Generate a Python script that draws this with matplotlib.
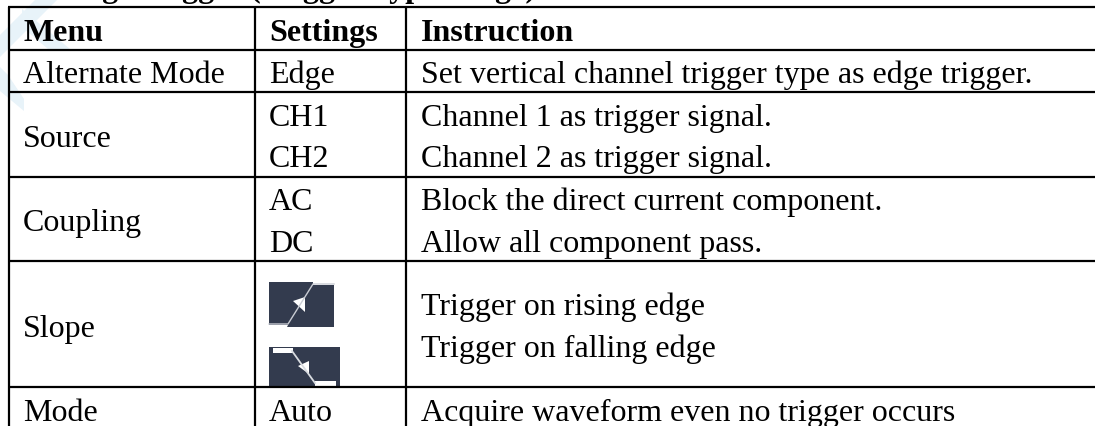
import matplotlib
matplotlib.use('Agg')
import matplotlib.pyplot as plt
from matplotlib.patches import Polygon, Rectangle

W, H = 1095, 427

title = 'Edge Trigger (Trigger Type: Edge)'
header = ['Menu', 'Settings', 'Instruction']
menu = ['Alternate Mode', 'Source', 'Coupling', 'Slope', 'Mode']
settings = ['Edge', 'CH1', 'CH2', 'AC', 'DC', 'Auto']
instructions = ['Set vertical channel trigger type as edge trigger.',
                'Channel 1 as trigger signal.',
                'Channel 2 as trigger signal.',
                'Block the direct current component.',
                'Allow all component pass.',
                'Trigger on rising edge',
                'Trigger on falling edge',
                'Acquire waveform even no trigger occurs']

# baselines, pixels from top
menu_y = [83, 147, 231, 337, 421]
settings_y = [83, 126, 167, 210, 252, 421]
instr_y = [83, 126, 167, 210, 252, 315, 357, 421]

h_lines = [8, 51, 93, 178, 262, 388]
v_lines = [9, 255, 406]
FS = 23
DARK = '#333b4e'

plt.rcParams['font.family'] = ['Liberation Serif', 'DejaVu Serif']

fig = plt.figure(figsize=(W / 100, H / 100), dpi=100)
ax = fig.add_axes([0, 0, 1, 1])
ax.set_xlim(0, W)
ax.set_ylim(H, 0)
ax.axis('off')

# watermark bands, top left
for pts in [[(0, 36), (36, 0), (58, 0), (0, 58)],
            [(0, 68), (8, 76), (24, 100), (24, 112), (0, 92)],
            [(22, 10), (70, 50), (48, 50), (22, 28)]]:
    ax.add_patch(Polygon(pts, fc='#e8f3f9', ec='none', zorder=0))

ax.text(63, -3.5, title, fontsize=FS, fontweight='bold', va='baseline')

for y in h_lines:
    ax.plot([v_lines[0] - 1, W], [y, y], color='black', lw=1.6, solid_capstyle='butt')
for x in v_lines:
    ax.plot([x, x], [h_lines[0], H], color='black', lw=1.6, solid_capstyle='butt')

for x, s in zip([23, 269, 421], header):
    ax.text(x, 41, s, fontsize=FS, fontweight='bold', va='baseline')
for y, s in zip(menu_y, menu):
    ax.text(23, y, s, fontsize=FS, va='baseline')
for y, s in zip(settings_y, settings):
    ax.text(269, y, s, fontsize=FS, va='baseline')
for y, s in zip(instr_y, instructions):
    ax.text(421, y, s, fontsize=FS, va='baseline')

# slope icons
ax.add_patch(Rectangle((269, 283), 65, 45, fc=DARK, ec='none'))
ax.add_patch(Rectangle((313, 283), 21, 3, fc='white', ec='none'))
ax.add_patch(Polygon([(269, 326), (288, 326), (287, 328), (269, 328)], fc='white', ec='none'))
ax.plot([269, 288, 313, 334], [325, 325, 285, 285], color='#c9ccd3', lw=1.0)
ax.add_patch(Polygon([(293, 302), (305, 298), (305, 313)], fc='white', ec='none'))
ax.add_patch(Rectangle((269, 348), 71, 40, fc=DARK, ec='none'))
ax.plot([292, 315], [352, 384], color='#d8dbe0', lw=1.3)
ax.add_patch(Rectangle((273, 349), 20, 5, fc='white', ec='none'))
ax.add_patch(Rectangle((315, 382), 21, 5, fc='white', ec='none'))
ax.add_patch(Polygon([(298, 367), (309, 362), (309, 375)], fc='white', ec='none'))

fig.savefig('out.png', dpi=100)
